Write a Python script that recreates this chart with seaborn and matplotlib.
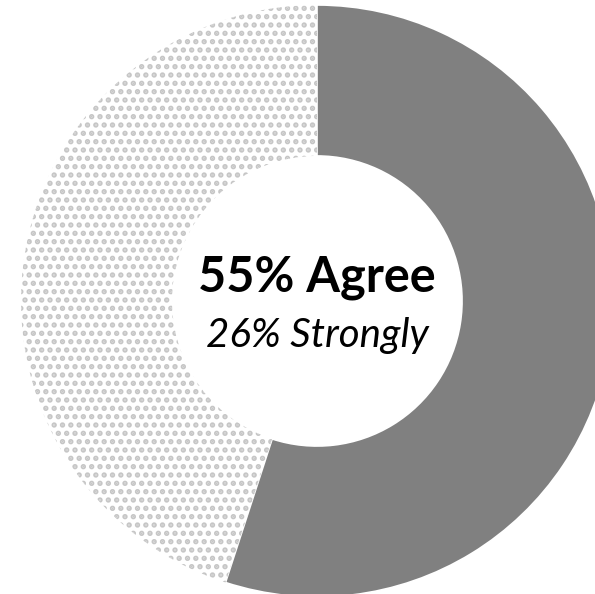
import matplotlib
matplotlib.use("Agg")
import matplotlib.pyplot as plt
import seaborn as sns

# Share of respondents
labels = ["Agree", "Other"]
shares = [55, 45]
strongly = 26

sns.set_theme(style="white")
plt.rcParams['font.family'] = ['Lato', 'DejaVu Sans']
plt.rcParams['hatch.linewidth'] = 2.6
plt.rcParams['hatch.color'] = '#c6c6c6'

fig = plt.figure(figsize=(5.95, 5.94), dpi=100)
ax = fig.add_axes([0, 0, 1, 1])

# donut geometry in pixels of the reference
cx, cy, r_px = 317, 301, 296
w_px, h_px = 595, 594

wedges, _ = ax.pie(
    shares,
    startangle=90,
    counterclock=False,
    colors=['#808080', 'white'],
    wedgeprops=dict(width=0.51, linewidth=0),
)
wedges[1].set_hatch('..')
wedges[1].set_edgecolor('#c6c6c6')
wedges[1].set_linewidth(0)
wedges[0].set_edgecolor('white')
wedges[0].set_linewidth(1.2)

ax.set_xlim(-cx / r_px, (w_px - cx) / r_px)
ax.set_ylim(-(h_px - cy) / r_px, cy / r_px)
ax.set_aspect('equal')
ax.axis('off')

ax.text(0, 0.08, f"{shares[0]}% {labels[0]}", ha='center', va='center',
        fontsize=35, fontweight='bold', color='black')
ax.text(0, -0.115, f"{strongly}% Strongly", ha='center', va='center',
        fontsize=29, fontstyle='italic', color='black')

fig.savefig("out.png", dpi=100)
